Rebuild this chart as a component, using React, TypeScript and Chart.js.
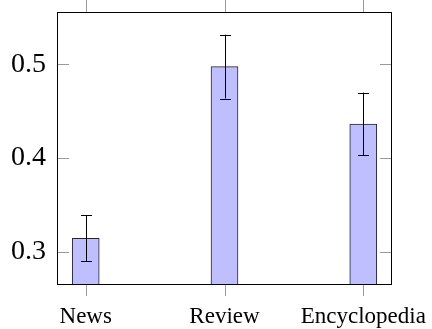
import React, { useEffect, useRef } from "react";
import { Chart, registerables } from "chart.js";

Chart.register(...registerables);

const categories = ["News", "Review", "Encyclopedia"];
const values = [0.3146, 0.4975, 0.4364];
const errors = [0.0245, 0.034, 0.0334];
const yTickValues = [0.3, 0.4, 0.5];
const yTickLabels = ["0.3", "0.4", "0.5"];

const frameAndTicks = {
  id: "frameAndTicks",
  afterDatasetsDraw(chart: any) {
    const { ctx, chartArea } = chart;
    const xs = chart.scales.x;
    const ys = chart.scales.y;
    const { left, right, top, bottom } = chartArea;
    ctx.save();
    // error bars
    ctx.strokeStyle = "#000";
    ctx.lineWidth = 1;
    values.forEach((v, i) => {
      const x = Math.round(xs.getPixelForValue(i)) + 0.5;
      const yt = ys.getPixelForValue(v + errors[i]);
      const yb = ys.getPixelForValue(v - errors[i]);
      ctx.beginPath();
      ctx.moveTo(x, yt);
      ctx.lineTo(x, yb);
      ctx.moveTo(x - 5.5, Math.round(yt) + 0.5);
      ctx.lineTo(x + 5.5, Math.round(yt) + 0.5);
      ctx.moveTo(x - 5.5, Math.round(yb) + 0.5);
      ctx.lineTo(x + 5.5, Math.round(yb) + 0.5);
      ctx.stroke();
    });
    // tick marks
    ctx.strokeStyle = "#9a9a9a";
    ctx.beginPath();
    ys.ticks.forEach((t: any) => {
      const y = Math.round(ys.getPixelForValue(t.value)) + 0.5;
      ctx.moveTo(left, y);
      ctx.lineTo(left + 12, y);
      ctx.moveTo(right - 12, y);
      ctx.lineTo(right, y);
    });
    xs.ticks.forEach((t: any) => {
      const x = Math.round(xs.getPixelForValue(t.value)) + 0.5;
      ctx.moveTo(x, top - 12);
      ctx.lineTo(x, top);
      ctx.moveTo(x, bottom);
      ctx.lineTo(x, bottom + 11);
    });
    ctx.stroke();
    // frame
    ctx.strokeStyle = "#000";
    ctx.lineWidth = 1;
    ctx.strokeRect(left + 0.5, top + 0.5, right - left - 1, bottom - top - 1);
    ctx.restore();
  },
};

export default function App() {
  const ref = useRef<HTMLCanvasElement | null>(null);
  useEffect(() => {
    if (!ref.current) return;
    const chart = new Chart(ref.current, {
      type: "bar",
      data: {
        datasets: [
          {
            data: values.map((v, i) => ({ x: i, y: v })),
            backgroundColor: "#bfbfff",
            borderColor: "#22223a",
            borderWidth: 1,
            barThickness: 27,
          },
        ],
      },
      options: {
        animation: false,
        responsive: false,
        layout: { padding: { left: 0, right: 40, top: 12, bottom: 0 } },
        plugins: { legend: { display: false }, tooltip: { enabled: false } },
        scales: {
          x: {
            type: "linear",
            offset: false,
            min: -0.207,
            max: 2.207,
            grid: { display: false, drawTicks: false, offset: false },
            border: { display: false },
            afterBuildTicks: (s: any) => {
              s.ticks = categories.map((_, i) => ({ value: i }));
            },
            afterFit: (s: any) => {
              s.height = 44;
              s.paddingLeft = 0;
              s.paddingRight = 0;
            },
            ticks: {
              padding: 18,
              color: "#000",
              maxRotation: 0,
              minRotation: 0,
              autoSkip: false,
              font: { family: "'Liberation Serif', serif", size: 23 },
              callback: (v: any) => categories[v] ?? "",
            },
          },
          y: {
            min: 0.2648,
            max: 0.5557,
            grid: { display: false, drawTicks: false },
            border: { display: false },
            afterBuildTicks: (s: any) => {
              s.ticks = yTickValues.map((v) => ({ value: v }));
            },
            afterFit: (s: any) => {
              s.width = 57;
              s.paddingTop = 0;
              s.paddingBottom = 0;
            },
            ticks: {
              padding: 11,
              color: "#000",
              font: { family: "'Liberation Serif', serif", size: 28 },
              callback: (v: any) => {
                const i = yTickValues.findIndex((t) => Math.abs(t - v) < 1e-9);
                return i >= 0 ? yTickLabels[i] : "";
              },
            },
          },
        },
      },
      plugins: [frameAndTicks],
    });
    return () => chart.destroy();
  }, []);
  return (
    <div style={{ position: "absolute", left: 0, top: 0, width: 432, height: 329, background: "#fff" }}>
      <canvas ref={ref} width={432} height={329} />
    </div>
  );
}
